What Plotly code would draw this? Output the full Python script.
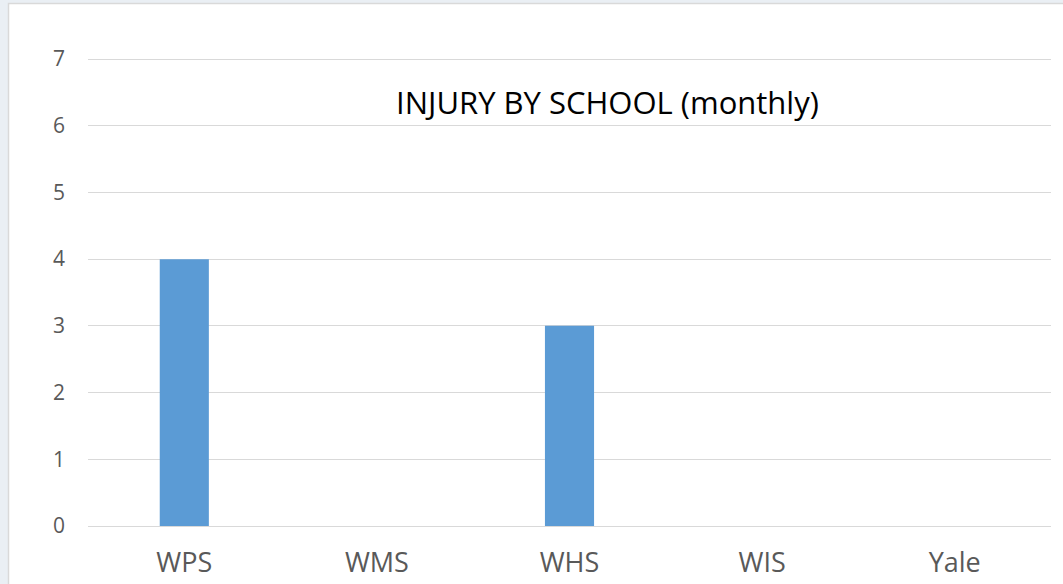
import plotly.graph_objects as go

schools = ["WPS", "WMS", "WHS", "WIS", "Yale"]
injuries = [4, 0, 3, 0, 0]
y_ticks = [0, 1, 2, 3, 4, 5, 6, 7]

L, R, T, B = 88, 12, 57, 56
W, H = 1063, 584
pw, ph = W - L - R, H - T - B

def px(x):
    return (x - L) / pw

def py(y):
    return (H - B - y) / ph

fig = go.Figure(go.Bar(x=schools, y=injuries, marker_color="#5b9bd5", marker_line_width=0))

fig.add_shape(type="rect", xref="paper", yref="paper", layer="below",
              x0=px(8.5), x1=px(1075), y0=py(600), y1=py(3.5),
              fillcolor="white", line=dict(color="#d9d9d9", width=1.5))

fig.update_layout(
    width=W, height=H,
    margin=dict(l=L, r=R, t=T, b=B),
    paper_bgcolor="#eaeff4",
    plot_bgcolor="white",
    bargap=0.745,
    showlegend=False,
    font=dict(family="Open Sans, sans-serif", color="#595959"),
    title=dict(text="INJURY BY SCHOOL (monthly)", xref="paper", x=px(607.5), xanchor="center",
               y=1 - 103 / H, yanchor="middle",
               font=dict(size=31, color="#000000", family="Open Sans, sans-serif")),
    xaxis=dict(showgrid=False, showline=False, ticks="", ticklabelstandoff=16, automargin=False,
               tickfont=dict(size=27, color="#595959")),
    yaxis=dict(range=[-0.03, 7.03], tickvals=y_ticks, showgrid=True, gridcolor="#d9d9d9", gridwidth=1,
               zeroline=False, showline=False, ticks="", ticklabelstandoff=22, automargin=False,
               tickfont=dict(size=21, color="#595959")),
)

fig.write_html("out.html", config={"displayModeBar": False},
               post_script="document.body.style.margin='0px';")
